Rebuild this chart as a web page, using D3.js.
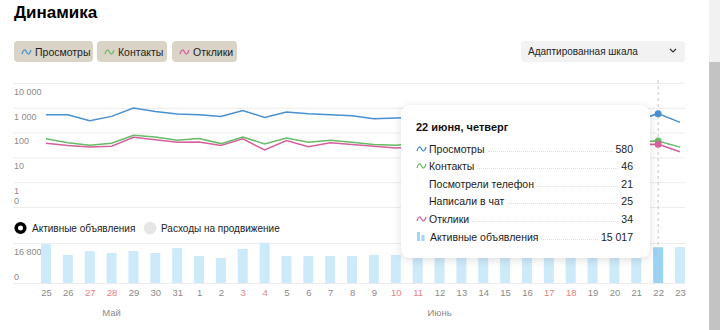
<!DOCTYPE html>
<html>
<head>
<meta charset="utf-8">
<script src="https://cdnjs.cloudflare.com/ajax/libs/d3/7.8.5/d3.min.js"></script>
<style>
  body { margin: 0; background: #fff; font-family: "Liberation Sans", Arial, sans-serif; }
  #page { position: relative; width: 720px; height: 330px; overflow: hidden; }
  .abs { position: absolute; }
  .title { left: 14px; top: 3px; font-size: 17px; font-weight: bold; color: #000; }
  .btn { top: 41px; height: 21px; background: #dad4c6; border-radius: 4px; font-size: 10.5px;
         color: #222; display: flex; align-items: center; padding-left: 7px; box-sizing: border-box; }
  .btn svg { margin-right: 3px; }
  .select { left: 521px; top: 41px; width: 164px; height: 21px; background: #f2f2f2; border-radius: 4px;
            font-size: 10px; color: #222; line-height: 21px; padding-left: 7px; box-sizing: border-box; }
  .radio { top: 221px; font-size: 10px; color: #222; line-height: 14px; }
  .tip { left: 401px; top: 105px; width: 249px; height: 153px; background: #fff; border-radius: 9px;
         box-shadow: 0 2px 10px rgba(0,0,0,0.13); box-sizing: border-box; padding: 16px 17px 0 15px; }
  .tip-title { font-size: 11px; font-weight: bold; color: #111; height: 16px; }
  .row { display: flex; align-items: flex-end; height: 17.6px; font-size: 10.5px; color: #222; }
  .row .lab { white-space: nowrap; display: flex; align-items: center; }
  .row .lead { flex: 1; border-bottom: 1px dotted #ddd; margin: 0 3px 3px 3px; }
  .row .val { white-space: nowrap; }
  .scroll-track { left: 709px; top: 0; width: 11px; height: 330px; background: #f1f1f1; }
  .scroll-thumb { left: 709px; top: 62px; width: 11px; height: 268px; background: #c3c3c3; }
</style>
</head>
<body>
<div id="page"></div>
<script>
// Dates shown on the x axis (25 May - 23 June)
const days = ['25', '26', '27', '28', '29', '30', '31', '1', '2', '3', '4', '5', '6', '7', '8', '9', '10',
  '11', '12', '13', '14', '15', '16', '17', '18', '19', '20', '21', '22', '23'];
const redDays = ['27', '28', '3', '4', '10', '11', '17', '18'];
const months = [{ label: 'Май', day: '28' }, { label: 'Июнь', day: '12' }];

// Series
const views = [525, 525, 302, 450, 970, 710, 560, 525, 450, 780, 410, 670, 575, 525, 480, 363, 390,
  420, 460, 440, 400, 380, 430, 370, 350, 410, 390, 300, 580, 258];
const contacts = [56, 39, 31, 37, 78, 67, 49, 58, 36, 67, 35, 61, 41, 49, 41, 33, 31,
  36, 40, 38, 34, 32, 37, 30, 29, 35, 33, 44, 46, 26];
const responses = [37, 30, 26, 28, 65, 52, 41, 42, 30, 56, 20, 48, 27, 39, 33, 28, 24,
  27, 31, 29, 26, 24, 28, 23, 22, 26, 25, 33, 34, 17];
const activeAds = [16300, 11800, 13400, 12600, 13400, 12600, 14700, 11300, 10500, 14300, 16900, 11300,
  11300, 11300, 11300, 11800, 11800, 11800, 11600, 11600, 11800, 11600, 11700, 11600, 11600, 11500,
  11600, 11700, 15017, 15100];

// Axis ticks
const logTicks = [10000, 1000, 100, 10, 1, 0.1];
const logTickLabels = ['10 000', '1 000', '100', '10', '1', '0'];
const barTicks = [16800, 0];

const seriesNames = ['Просмотры', 'Контакты', 'Отклики'];
const seriesColors = ['#4a8fd2', '#68bb68', '#d6609c'];
const selected = '22';

const page = d3.select('#page');

function wave(sel, color) {
  const s = sel.append('svg').attr('width', 11).attr('height', 8);
  s.append('path')
    .attr('d', 'M1 6 C2.5 1 4 1 5.5 4 S8.5 7 10 2')
    .attr('fill', 'none')
    .attr('stroke', color)
    .attr('stroke-width', 1.3);
}

// Header
page.append('div').attr('class', 'abs title').text('Динамика');
const btnPos = [[14, 79], [97, 70], [172, 65]];
seriesNames.forEach((n, i) => {
  const b = page.append('div').attr('class', 'abs btn')
    .style('left', btnPos[i][0] + 'px').style('width', btnPos[i][1] + 'px');
  wave(b, seriesColors[i]);
  b.append('span').text(n);
});
const sel = page.append('div').attr('class', 'abs select').text('Адаптированная шкала');
sel.append('svg').attr('class', 'abs').style('left', '148px').style('top', '7px')
  .attr('width', 8).attr('height', 6)
  .append('path').attr('d', 'M1 1 L4 4 L7 1').attr('fill', 'none').attr('stroke', '#333').attr('stroke-width', 1.2);

page.append('div').attr('class', 'abs scroll-track');
page.append('div').attr('class', 'abs scroll-thumb');

// Chart svg
const svg = page.append('svg').attr('class', 'abs').style('left', 0).style('top', 0)
  .attr('width', 705).attr('height', 330);

const x = d3.scalePoint().domain(d3.range(days.length)).range([46, 680]);
const y = d3.scaleLog().domain([0.1, 10000]).range([207, 83]);
const yBar = d3.scaleLinear().domain([0, 16800]).range([283, 243]);

// Top axis (log)
const yAxis = d3.axisRight(y).tickValues(logTicks).tickSize(671).tickFormat((d, i) => logTickLabels[i]);
const gy = svg.append('g').attr('transform', 'translate(14,0)').call(yAxis);
gy.select('.domain').remove();
gy.selectAll('.tick line').attr('stroke', '#ececec');
gy.selectAll('.tick text')
  .attr('x', 0).attr('text-anchor', 'start')
  .attr('dy', (d, i) => i === logTicks.length - 1 ? '-0.35em' : '1.25em')
  .attr('fill', '#8a8a8a').style('font-size', '9px').style('font-family', 'Liberation Sans, Arial, sans-serif');

// Bar axis
const yBarAxis = d3.axisRight(yBar).tickValues(barTicks).tickSize(671).tickFormat(d => d3.format(',')(d).replace(',', ' '));
const gb = svg.append('g').attr('transform', 'translate(14,0)').call(yBarAxis);
gb.select('.domain').remove();
gb.selectAll('.tick line').attr('stroke', '#ececec');
gb.selectAll('.tick text')
  .attr('x', 0).attr('text-anchor', 'start')
  .attr('dy', d => d === 0 ? '-0.4em' : '1.3em')
  .attr('fill', '#8a8a8a').style('font-size', '9px').style('font-family', 'Liberation Sans, Arial, sans-serif');

// Bars
const barW = 10;
svg.selectAll('.bar')
  .data(activeAds)
  .enter()
  .append('rect')
  .attr('class', 'bar')
  .attr('x', (d, i) => x(i) - barW / 2)
  .attr('width', barW)
  .attr('y', d => Math.max(yBar(d), 242))
  .attr('height', d => yBar(0) - Math.max(yBar(d), 242))
  .attr('fill', (d, i) => days[i] === selected ? '#99d3f5' : '#cdeafb');

// Dashed marker at the selected day
const si = days.indexOf(selected);
svg.append('line')
  .attr('x1', x(si)).attr('x2', x(si))
  .attr('y1', 80).attr('y2', 283)
  .attr('stroke', '#c8c8c8').attr('stroke-dasharray', '3,3');

// Lines
const line = d3.line().x((d, i) => x(i)).y(d => y(d));
[views, contacts, responses].reverse().forEach((s, k) => {
  const c = seriesColors[2 - k];
  svg.append('path')
    .attr('d', line(s))
    .attr('fill', 'none')
    .attr('stroke', c)
    .attr('stroke-width', 1.5);
});
[views, contacts, responses].forEach((s, k) => {
  svg.append('circle')
    .attr('cx', x(si)).attr('cy', y(s[si])).attr('r', 3.5)
    .attr('fill', seriesColors[k]);
});

// X axis labels
const xAxis = d3.axisBottom(x).tickSize(0).tickFormat(i => days[i]);
const gx = svg.append('g').attr('transform', 'translate(0,286)').call(xAxis);
gx.select('.domain').remove();
gx.selectAll('.tick text')
  .attr('fill', i => redDays.includes(days[i]) ? '#e48383' : '#8a8a8a')
  .style('font-size', '9.5px').style('font-family', 'Liberation Sans, Arial, sans-serif');
svg.selectAll('.month')
  .data(months)
  .enter()
  .append('text')
  .attr('class', 'month')
  .attr('x', d => x(days.indexOf(d.day)))
  .attr('y', 316)
  .attr('text-anchor', 'middle')
  .attr('fill', '#8a8a8a')
  .style('font-size', '9.5px')
  .text(d => d.label);

// Radio legend
const r1 = page.append('div').attr('class', 'abs radio').style('left', '14px');
r1.append('svg').attr('width', 14).attr('height', 14).style('vertical-align', '-3px').style('margin-right', '4px')
  .append('circle').attr('cx', 6.5).attr('cy', 7).attr('r', 4.3).attr('fill', '#fff').attr('stroke', '#000').attr('stroke-width', 3.6);
r1.append('span').text('Активные объявления');
const r2 = page.append('div').attr('class', 'abs radio').style('left', '143px');
r2.append('svg').attr('width', 14).attr('height', 14).style('vertical-align', '-3px').style('margin-right', '4px')
  .append('circle').attr('cx', 7).attr('cy', 7).attr('r', 6.3).attr('fill', '#e6e6e6');
r2.append('span').text('Расходы на продвижение');

// Tooltip
const tip = page.append('div').attr('class', 'abs tip');
tip.append('div').attr('class', 'tip-title').text('22 июня, четверг');
const rows = [
  { label: 'Просмотры', value: views[si], icon: seriesColors[0] },
  { label: 'Контакты', value: contacts[si], icon: seriesColors[1] },
  { label: 'Посмотрели телефон', value: 21, icon: null },
  { label: 'Написали в чат', value: 25, icon: null },
  { label: 'Отклики', value: responses[si], icon: seriesColors[2] },
  { label: 'Активные объявления', value: activeAds[si], icon: 'bar' }
];
rows.forEach(r => {
  const row = tip.append('div').attr('class', 'row');
  const lab = row.append('div').attr('class', 'lab');
  if (r.icon === 'bar') {
    const s = lab.append('svg').attr('width', 12).attr('height', 9).style('margin-right', '2px');
    s.append('rect').attr('x', 1).attr('y', 0).attr('width', 3).attr('height', 9).attr('fill', '#9fd6f6');
    s.append('rect').attr('x', 5.5).attr('y', 3).attr('width', 3).attr('height', 6).attr('fill', '#9fd6f6');
  } else if (r.icon) {
    wave(lab, r.icon);
    lab.select('svg').style('margin-right', '2px');
  } else {
    lab.style('padding-left', '13px');
  }
  lab.append('span').text(r.label);
  row.append('div').attr('class', 'lead');
  row.append('div').attr('class', 'val').text(d3.format(',')(r.value).replace(',', ' '));
});
</script>
</body>
</html>
